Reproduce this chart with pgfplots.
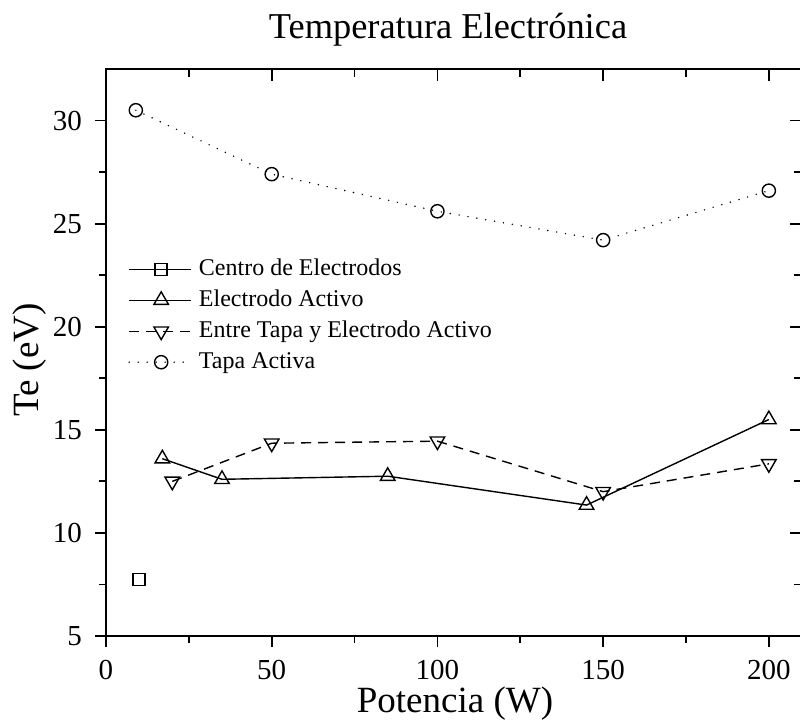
\documentclass[border=0pt]{standalone}
\usepackage{fontspec}
\setmainfont{Liberation Serif}
\usepackage{pgfplots}
\pgfplotsset{compat=1.18}

% temperature data (W, eV)
\pgfplotstableread{
x y
10 7.75
}\centro
\pgfplotstableread{
x y
17 13.6
35 12.6
85 12.75
145 11.35
200 15.5
}\electrodo
\pgfplotstableread{
x y
20 12.5
50 14.35
100 14.45
150 12.0
200 13.35
}\entre
\pgfplotstableread{
x y
9 30.5
50 27.4
100 25.6
150 24.2
200 26.6
}\tapa

\pgfplotsset{
  common/.style={
    at={(0,0)}, anchor=south west,
    scale only axis, width=348pt, height=283.5pt,
    xmin=0, xmax=210, ymin=5, ymax=32.5,
    xtick={0,50,...,200}, ytick={5,10,...,30},
    minor x tick num=1, minor y tick num=1,
    major tick length=5.5pt, minor tick length=3.5pt,
    tick style={line width=0.9pt, black},
  }
}

\begin{document}
\begin{tikzpicture}
% ticks pointing inward on top and right
\begin{axis}[common,
  xtick pos=right, ytick pos=right, tick align=inside,
  xticklabels={}, yticklabels={},
  axis line style={draw=none},
  major tick length=6pt, minor tick length=4pt]
\end{axis}
\begin{axis}[common,
  xtick pos=left, ytick pos=left, tick align=outside,
  axis line style={line width=1pt},
  /pgf/number format/assume math mode=true,
  ticklabel style={font=\fontsize{14.5}{17}\selectfont},
  xticklabel style={yshift=-3pt},
  yticklabel style={xshift=-3pt},
  legend cell align=left,
  legend style={draw=none, fill=none, at={(0.0316,0.667)}, anchor=north west,
    inner sep=0pt, row sep=4.5pt,
    font=\fontsize{12}{14}\selectfont,
    nodes={inner sep=0pt, text height=8.5pt, text depth=2.5pt}},
  /tikz/every odd column/.append style={column sep=3.5pt},
  % sample line with the mark centred on it
  legend image code/.code={
    \draw[#1] (0pt,0pt) -- (31pt,0pt);
    \draw[#1] plot coordinates {(16pt,0pt)};},
]
\addplot[black, line width=0.6pt, mark=square, mark size=3pt,
  mark options={solid, line width=0.7pt}] table {\centro};
\addlegendentry{Centro de Electrodos}
\addplot[black, line width=0.7pt, mark=triangle, mark size=4.2pt,
  mark options={solid, line width=0.7pt}] table {\electrodo};
\addlegendentry{Electrodo Activo}
\addplot[black, line width=0.7pt, dash pattern=on 5pt off 3.5pt,
  mark=triangle, mark size=4.2pt,
  mark options={solid, rotate=180, line width=0.7pt}] table {\entre};
\addlegendentry{Entre Tapa y Electrodo Activo}
\addplot[black, line width=0.8pt, line cap=round, dash pattern=on 0pt off 4.5pt,
  mark=o, mark size=3.3pt, mark options={solid, line width=0.7pt}] table {\tapa};
\addlegendentry{Tapa Activa}
\end{axis}
\node[font=\fontsize{18.2}{21}\selectfont] at (171pt,303pt) {Temperatura Electrónica};
\node[font=\fontsize{18.5}{22}\selectfont] at (174.5pt,-34pt) {Potencia (W)};
\node[font=\fontsize{18.5}{22}\selectfont, rotate=90] at (-38pt,138pt) {Te (eV)};
\pgfresetboundingbox
\useasboundingbox (-53pt,-44.5pt) rectangle (347pt,318pt);
\end{tikzpicture}
\end{document}
